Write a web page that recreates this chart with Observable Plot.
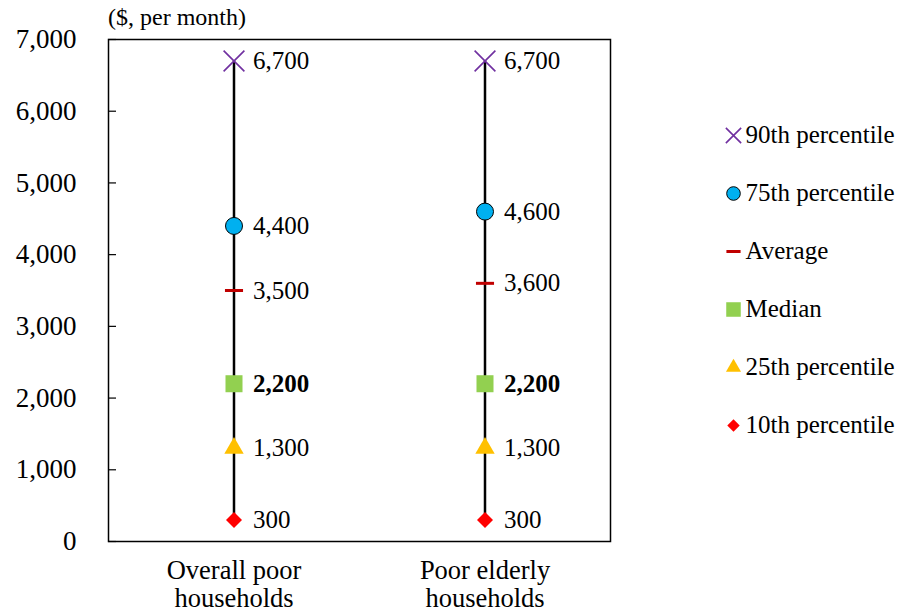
<!DOCTYPE html>
<html>
<head>
<meta charset="utf-8">
<script src="https://cdn.jsdelivr.net/npm/d3@7"></script>
<script src="https://cdn.jsdelivr.net/npm/@observablehq/plot@0.6"></script>
<style>
  html, body { margin: 0; padding: 0; background: #fff; }
  #wrap { position: relative; width: 898px; height: 613px; font-family: "Liberation Serif", "Times New Roman", serif; }
  #unit { position: absolute; left: 108px; top: 3px; font-size: 24px; line-height: 28px; color: #000; }
  #legend { position: absolute; left: 700px; top: 103.6px; }
</style>
</head>
<body>
<div id="wrap">
  <div id="chart"></div>
  <div id="unit">($, per month)</div>
  <div id="legend"></div>
</div>
<script>
// Monthly income distribution of poor households ($ per month)
const categories = ["Overall poor\nhouseholds", "Poor elderly\nhouseholds"];
const p90 = [6700, 6700];
const p75 = [4400, 4600];
const average = [3500, 3600];
const median = [2200, 2200];
const p25 = [1300, 1300];
const p10 = [300, 300];
const seriesNames = ["90th percentile", "75th percentile", "Average", "Median", "25th percentile", "10th percentile"];
const yTicks = [0, 1000, 2000, 3000, 4000, 5000, 6000, 7000];

// horizontal dash symbol for the average
const dash = {
  draw(context, size) {
    const w = Math.sqrt(size) / 2;
    context.moveTo(-w, 0);
    context.lineTo(w, 0);
  }
};

const series = [
  {name: "90th percentile", values: p90, symbol: "times", fill: "none", stroke: "#7030A0", strokeWidth: 1.6, r: 9.5, lr: 7},
  {name: "75th percentile", values: p75, symbol: "circle", fill: "#00B0F0", stroke: "#000", strokeWidth: 1, r: 8.5, lr: 6.8},
  {name: "Average", values: average, symbol: dash, fill: "none", stroke: "#C00000", strokeWidth: 3, r: 10.2, lr: 8},
  {name: "Median", values: median, symbol: "square", fill: "#92D050", stroke: "none", strokeWidth: 0, r: 9.6, lr: 8.2},
  {name: "25th percentile", values: p25, symbol: "triangle", fill: "#FFC000", stroke: "none", strokeWidth: 0, r: 7.2, lr: 5.6},
  {name: "10th percentile", values: p10, symbol: "diamond2", fill: "#FF0000", stroke: "none", strokeWidth: 0, r: 7.2, lr: 5.6}
];

const rows = categories.map((c, i) => ({cat: c, lo: p10[i], hi: p90[i]}));
const fmt = d3.format(",");

const marks = [
  Plot.frame({stroke: "#000", strokeWidth: 1.5}),
  Plot.ruleX(rows, {x: "cat", y1: "lo", y2: "hi", stroke: "#000", strokeWidth: 2.5}),
  // short tick marks pointing into the plot from the left edge
  Plot.axisY({ticks: yTicks, tickSize: 8, dx: 8, tickFormat: () => "", label: null, strokeWidth: 1.2}),
  Plot.axisY({ticks: yTicks, tickFormat: fmt, tickSize: 0, tickPadding: 32, fontSize: 27, label: null}),
  Plot.text(categories, {x: d => d, frameAnchor: "bottom", dy: 17, lineAnchor: "top", lineHeight: 1.08, fontSize: 26.5})
];

for (const s of series) {
  const data = categories.map((c, i) => ({cat: c, v: s.values[i]}));
  marks.push(Plot.dot(data, {x: "cat", y: "v", symbol: s.symbol, fill: s.fill, stroke: s.stroke, strokeWidth: s.strokeWidth, r: s.r}));
  marks.push(Plot.text(data, {
    x: "cat", y: "v", text: d => fmt(d.v), dx: 19, textAnchor: "start", fontSize: 25,
    fontWeight: s.name === "Median" ? "bold" : "normal"
  }));
}

const chart = Plot.plot({
  width: 898,
  height: 613,
  marginLeft: 108,
  marginRight: 288,
  marginTop: 39,
  marginBottom: 72,
  style: {fontFamily: "Liberation Serif, Times New Roman, serif", color: "#000", background: "#fff"},
  x: {domain: categories, type: "band", padding: 0, axis: null},
  y: {domain: [0, 7000], axis: null},
  marks
});
document.getElementById("chart").appendChild(chart);

// legend
const legendMarks = [];
for (const s of series) {
  legendMarks.push(Plot.dot([s.name], {y: d => d, frameAnchor: "left", dx: 33, symbol: s.symbol, fill: s.fill, stroke: s.stroke, strokeWidth: s.strokeWidth, r: s.lr}));
}
legendMarks.push(Plot.text(seriesNames, {y: d => d, text: d => d, frameAnchor: "left", dx: 45, textAnchor: "start", fontSize: 25}));

const legend = Plot.plot({
  width: 198,
  height: 352.8,
  margin: 0,
  style: {fontFamily: "Liberation Serif, Times New Roman, serif", color: "#000", background: "transparent", overflow: "visible"},
  y: {domain: seriesNames, type: "band", padding: 0, axis: null},
  marks: legendMarks
});
document.getElementById("legend").appendChild(legend);
</script>
</body>
</html>
